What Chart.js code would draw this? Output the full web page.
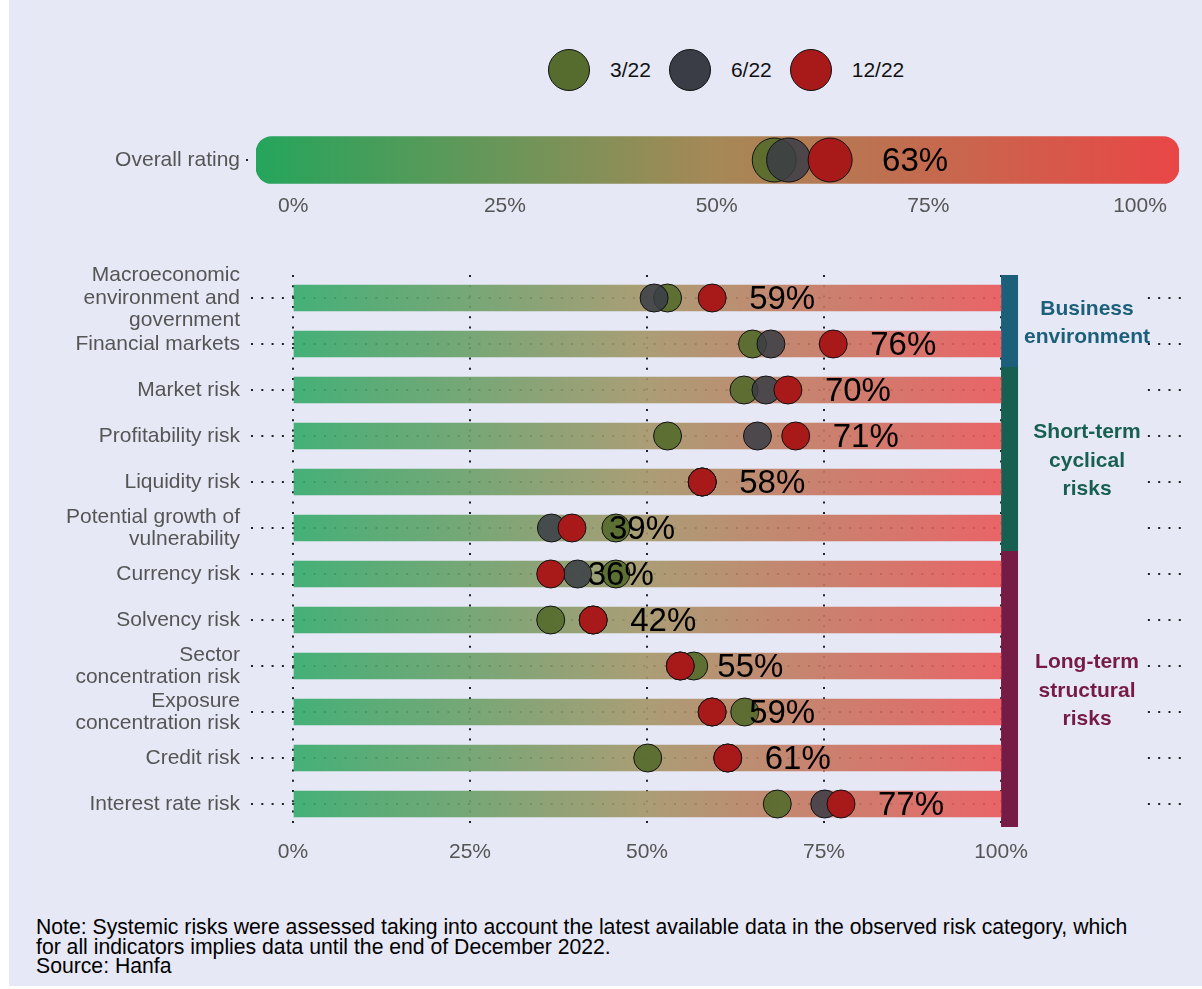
<!DOCTYPE html>
<html>
<head>
<meta charset="utf-8">
<script src="https://cdn.jsdelivr.net/npm/chart.js@4.4.1/dist/chart.umd.min.js"></script>
<style>
  body { margin:0; background:#fff; font-family:"Liberation Sans", Arial, sans-serif; }
  #frame { position:absolute; left:9px; top:0; width:1193px; height:986px; background:#e6e8f5; }
  .wrap { position:absolute; left:0; width:1202px; }
  #legend { position:absolute; top:49px; left:548px; height:42px; display:flex; align-items:center; }
  .lg-dot { width:42px; height:42px; border-radius:50%; border:1px solid #111; box-sizing:border-box; }
  .lg-txt { font-size:21px; color:#111; margin:0 18px 0 20px; }
  #note { position:absolute; left:36px; top:917px; font-size:21.2px; line-height:19.6px; color:#000; }
</style>
</head>
<body>
<div id="frame"></div>
<div id="legend"></div>
<div class="wrap" style="top:100px;height:130px"><canvas id="overall" width="1202" height="130"></canvas></div>
<div class="wrap" style="top:240px;height:640px"><canvas id="risks" width="1202" height="640"></canvas></div>
<div id="note">Note: Systemic risks were assessed taking into account the latest available data in the observed risk category, which<br>for all indicators implies data until the end of December 2022.<br>Source: Hanfa</div>

<script>
/* ---- data ---- */
const seriesNames  = ['3/22', '6/22', '12/22'];
const seriesColors = ['rgba(86,107,46,0.92)', 'rgba(58,61,70,0.85)', '#a8191a'];
const legendColors = ['#566b2e', '#3a3d46', '#a8191a'];

const overallLabel = ['Overall rating'];
const overallRange = [-4.4, 104.6];
const overallMar22 = [56.8];
const overallJun22 = [58.5];
const overallDec22 = [63.4];

const categories = [
  ['Macroeconomic', 'environment and', 'government'],
  'Financial markets',
  'Market risk',
  'Profitability risk',
  'Liquidity risk',
  ['Potential growth of', 'vulnerability'],
  'Currency risk',
  'Solvency risk',
  ['Sector', 'concentration risk'],
  ['Exposure', 'concentration risk'],
  'Credit risk',
  'Interest rate risk'
];
const mar22 = [52.9, 64.9, 63.7, 52.9, 57.8, 45.6, 45.6, 36.4, 56.6, 63.8, 50.1, 68.4];
const jun22 = [51.0, 67.5, 66.8, 65.6, 57.8, 36.5, 40.2, 42.4, 54.7, 59.2, 61.4, 75.1];
const dec22 = [59.2, 76.3, 69.9, 71.0, 57.8, 39.4, 36.4, 42.4, 54.7, 59.2, 61.4, 77.4];
const scaleMax = categories.map(() => 100);

const pctTicks = [0, 25, 50, 75, 100];

const groups = [
  { name:['Business', 'environment'],            from:0, to:1,  color:'#1c5f7b' },
  { name:['Short-term', 'cyclical', 'risks'],    from:2, to:5,  color:'#175f51' },
  { name:['Long-term', 'structural', 'risks'],   from:6, to:11, color:'#761b46' }
];

const FONT = '"Liberation Sans", Arial, sans-serif';
const BG   = '#e6e8f5';
const DOTS = [2, 8.3];
Chart.defaults.font.family = FONT;

/* legend built from the series */
document.getElementById('legend').innerHTML = seriesNames.map((n, i) =>
  `<div class="lg-dot" style="background:${legendColors[i]}"></div><span class="lg-txt">${n}</span>`
).join('');

/* gradient fill from green (low risk) to red (high risk) */
function riskGradient(stops, from, to) {
  return ctx => {
    const chart = ctx.chart;
    if (!chart.chartArea) return stops[0];
    const xs = chart.scales.x;
    const g = chart.ctx.createLinearGradient(xs.getPixelForValue(from), 0, xs.getPixelForValue(to), 0);
    stops.forEach((c, i) => g.addColorStop(i / (stops.length - 1), c));
    return g;
  };
}

function markerSets(a, b, c, r) {
  return [a, b, c].map((d, i) => ({
    type: 'line', label: seriesNames[i], data: d, showLine: false,
    pointRadius: r, pointHoverRadius: r, pointBackgroundColor: seriesColors[i],
    pointBorderColor: '#111', pointBorderWidth: 1, order: 3 - i
  }));
}

/* value label printed to the right of the latest marker */
function pctLabels(size, gap) {
  return {
    id: 'pctLabels',
    afterDatasetsDraw(chart) {
      const ds = chart.data.datasets.length - 1;
      const meta = chart.getDatasetMeta(ds);
      const ctx = chart.ctx;
      ctx.save();
      ctx.font = `${size}px ${FONT}`;
      ctx.fillStyle = '#000';
      ctx.textAlign = 'left';
      ctx.textBaseline = 'middle';
      meta.data.forEach((pt, i) => {
        const v = chart.data.datasets[ds].data[i];
        ctx.fillText(Math.round(v) + '%', pt.x + gap, pt.y + 2);
      });
      ctx.restore();
    }
  };
}

const pctTickOpts = (pad) => ({
  afterBuildTicks: s => { s.ticks = pctTicks.map(v => ({ value: v })); },
  ticks: { callback: v => v + '%', color: '#555', font: { size: 21 }, padding: pad, maxRotation: 0 }
});

/* ---- overall rating ---- */
new Chart(document.getElementById('overall'), {
  type: 'bar',
  data: {
    labels: overallLabel,
    datasets: [
      { data: [overallRange],
        backgroundColor: riskGradient(['#25a55c', '#a68856', '#e94646'], overallRange[0], overallRange[1]),
        barThickness: 47, borderRadius: 16, borderSkipped: false, order: 4 },
      ...markerSets(overallMar22, overallJun22, overallDec22, 22)
    ]
  },
  options: {
    indexAxis: 'y', responsive: false, animation: false,
    layout: { padding: { top: 36, right: 20, left: 0, bottom: 0 } },
    plugins: { legend: { display: false }, tooltip: { enabled: false } },
    scales: {
      x: { type: 'linear', min: overallRange[0], max: overallRange[1], ...pctTickOpts(2),
           afterFit: s => { s.height = 46; },
           grid: { display: false }, border: { display: false } },
      y: { type: 'category', afterFit: s => { s.width = 256; },
           ticks: { color: '#555', font: { size: 21 }, padding: 6 },
           grid: { offset: false, color: '#222', lineWidth: 2, tickLength: 10, tickBorderDash: DOTS },
           border: { display: false, dash: DOTS } }
    }
  },
  plugins: [pctLabels(33, 52)]
});

/* ---- risk categories ---- */
const groupBands = {
  id: 'groupBands',
  beforeDatasetsDraw(chart) {
    const { ctx, chartArea } = chart;
    const xs = chart.scales.x, ys = chart.scales.y;
    const x100 = xs.getPixelForValue(100);
    const step = ys.getPixelForValue(1) - ys.getPixelForValue(0);
    ctx.save();
    // keep the grid dots off the group captions
    ctx.fillStyle = BG;
    ctx.fillRect(x100 + 17, chartArea.top - 4, 128, chartArea.bottom - chartArea.top + 8);
    groups.forEach(g => {
      const y0 = ys.getPixelForValue(g.from) - step / 2;
      const y1 = ys.getPixelForValue(g.to) + step / 2;
      ctx.fillStyle = g.color;
      ctx.fillRect(x100, y0, 17, y1 - y0);
    });
    ctx.restore();
  },
  afterDatasetsDraw(chart) {
    const { ctx } = chart;
    const xs = chart.scales.x, ys = chart.scales.y;
    const x100 = xs.getPixelForValue(100);
    ctx.save();
    ctx.font = `bold 21px ${FONT}`;
    ctx.textAlign = 'center';
    ctx.textBaseline = 'middle';
    groups.forEach(g => {
      const mid = (ys.getPixelForValue(g.from) + ys.getPixelForValue(g.to)) / 2 + 2;
      ctx.fillStyle = g.color;
      g.name.forEach((line, i) => {
        ctx.fillText(line, x100 + 86, mid + (i - (g.name.length - 1) / 2) * 28.5);
      });
    });
    ctx.restore();
  }
};

new Chart(document.getElementById('risks'), {
  type: 'bar',
  data: {
    labels: categories,
    datasets: [
      { data: scaleMax,
        backgroundColor: riskGradient(['rgba(50,170,106,0.9)', 'rgba(164,149,104,0.9)', 'rgba(233,86,88,0.9)'], 0, 100),
        barThickness: 26, borderSkipped: false, order: 4 },
      ...markerSets(mar22, jun22, dec22, 14)
    ]
  },
  options: {
    indexAxis: 'y', responsive: false, animation: false,
    layout: { padding: { top: 35, right: 19, left: 0, bottom: 0 } },
    plugins: { legend: { display: false }, tooltip: { enabled: false } },
    scales: {
      x: { type: 'linear', min: 0, max: 125.7, ...pctTickOpts(13),
           afterFit: s => { s.height = 53; },
           grid: { color: '#222', lineWidth: 2, drawTicks: false },
           border: { display: false, dash: DOTS } },
      y: { type: 'category', offset: true, afterFit: s => { s.width = 293; },
           ticks: { color: '#555', font: { size: 21, lineHeight: 1.07 }, padding: 11, autoSkip: false },
           grid: { offset: false, color: '#222', lineWidth: 2, tickLength: 42, tickBorderDash: DOTS },
           border: { display: false, dash: DOTS } }
    }
  },
  plugins: [groupBands, pctLabels(33, 37)]
});
</script>
</body>
</html>
